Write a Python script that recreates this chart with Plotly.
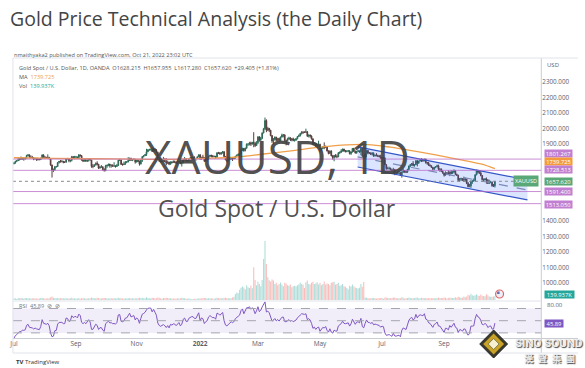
import plotly.graph_objects as go
import pandas as pd

# ---------------- data (daily bars Jul 1 2021 - Oct 21 2022) ----------------
opens = [
    1770, 1776,
    1787, 1791, 1796, 1803, 1802,  1808, 1806, 1808, 1824, 1828,  1812, 1812, 1809, 1803, 1806,
    1802, 1798, 1798, 1806, 1828,  1814, 1813, 1810, 1813, 1804,  1763, 1731, 1733, 1752, 1753,
    1779, 1787, 1786, 1787, 1781,  1781, 1805, 1803, 1791, 1793,  1817, 1810, 1814, 1815, 1810,
    1828, 1823, 1795, 1789, 1794,  1788, 1794, 1804, 1795, 1754,  1754, 1764, 1774, 1768, 1743,
    1750, 1750, 1734, 1726, 1757,  1761, 1769, 1760, 1761, 1756,  1757, 1754, 1760, 1794, 1796,
    1767, 1765, 1769, 1782, 1783,  1792, 1807, 1793, 1798, 1800,  1783, 1793, 1787, 1769, 1793,
    1818, 1823, 1831, 1849, 1862,  1864, 1864, 1851, 1868, 1858,  1846, 1806, 1790, 1784, 1788,
    1792, 1785, 1774, 1782, 1768,  1783, 1779, 1784, 1783, 1775,  1782, 1787, 1771, 1777, 1798,
    1804, 1790, 1789, 1803, 1809,  1811, 1811, 1805, 1805, 1816,
    1829, 1801, 1814, 1810, 1789,  1797, 1801, 1819, 1826, 1822,  1818, 1819, 1813, 1842, 1840,
    1835, 1843, 1849, 1818, 1796,  1791, 1797, 1801, 1808, 1804,  1808, 1820, 1826, 1833, 1836,
    1860, 1871, 1855, 1872, 1898,  1898, 1906, 1898, 1910, 1903,  1889, 1908, 1944, 1923, 1936,
    1970, 1997, 2050, 1988, 2000,  1988, 1953, 1918, 1929, 1943,  1922, 1935, 1921, 1944, 1957,
    1958, 1922, 1920, 1932, 1937,  1925, 1932, 1922, 1925, 1933,  1947, 1954, 1967, 1977, 1975,
    1974, 1978, 1951, 1957, 1950,  1932, 1898, 1904, 1886, 1894,  1897, 1863, 1870, 1881, 1876,
    1883, 1854, 1838, 1853, 1822,  1811, 1825, 1818, 1816, 1841,  1846, 1853, 1866, 1853, 1851,
    1853, 1855, 1837, 1847, 1870,  1851, 1841, 1852, 1854, 1848,  1871, 1819, 1809, 1834, 1857,
    1840, 1839, 1832, 1838, 1822,  1826, 1823, 1820, 1817, 1807,  1811, 1808, 1764, 1739, 1740,
    1742, 1733, 1725, 1735, 1710,  1708, 1709, 1711, 1696, 1718,  1727, 1719, 1717, 1734, 1756,
    1766, 1772, 1760, 1765, 1791,  1775, 1789, 1794, 1792, 1790,  1802, 1779, 1776, 1761, 1758,
    1747, 1736, 1748, 1751, 1758,  1737, 1737, 1723, 1711, 1697,  1712, 1710, 1702, 1718, 1708,
    1717, 1724, 1702, 1697, 1664,  1675, 1675, 1664, 1673, 1671,  1644, 1622, 1628, 1660, 1660,
    1661, 1699, 1730, 1716, 1712,  1695, 1668, 1666, 1673, 1666,  1644, 1650, 1652, 1629, 1628.215,
]
highs = [
    1781, 1790,
    1795, 1815, 1808, 1818, 1811,  1810, 1815, 1829, 1834, 1831,  1825, 1822, 1814, 1810, 1809,
    1810, 1805, 1811, 1832, 1832,  1820, 1815, 1832, 1815, 1806,  1765, 1740, 1756, 1757, 1781,
    1789, 1795, 1795, 1789, 1787,  1808, 1809, 1806, 1797, 1822,  1820, 1822, 1822, 1817, 1834,
    1831, 1827, 1800, 1800, 1802,  1797, 1808, 1806, 1797, 1769,  1767, 1779, 1787, 1770, 1756,
    1763, 1756, 1742, 1764, 1765,  1770, 1770, 1767, 1767, 1781,  1761, 1770, 1796, 1800, 1797,
    1773, 1785, 1788, 1788, 1814,  1810, 1809, 1802, 1806, 1802,  1796, 1796, 1792, 1797, 1819,
    1826, 1833, 1868, 1865, 1867,  1869, 1877, 1870, 1870, 1866,  1849, 1810, 1794, 1795, 1815,
    1807, 1807, 1792, 1784, 1786,  1787, 1793, 1792, 1786, 1790,  1791, 1790, 1780, 1800, 1815,
    1807, 1794, 1804, 1812, 1812,  1814, 1819, 1808, 1818, 1830,
    1832, 1815, 1829, 1812, 1801,  1806, 1823, 1828, 1829, 1828,  1823, 1822, 1845, 1848, 1847,
    1846, 1853, 1851, 1820, 1800,  1801, 1806, 1812, 1812, 1815,  1822, 1830, 1836, 1842, 1865,
    1874, 1873, 1875, 1902, 1903,  1913, 1914, 1912, 1975, 1913,  1917, 1950, 1950, 1945, 1974,
    2003, 2070, 2058, 2010, 2002,  1990, 1957, 1937, 1948, 1945,  1938, 1939, 1947, 1966, 1963,
    1960, 1926, 1939, 1946, 1943,  1937, 1940, 1932, 1937, 1950,  1960, 1970, 1981, 1979, 1980,
    1998, 1982, 1959, 1960, 1955,  1935, 1911, 1906, 1900, 1920,  1900, 1873, 1884, 1909, 1889,
    1884, 1858, 1858, 1858, 1828,  1827, 1833, 1831, 1847, 1849,  1865, 1869, 1868, 1860, 1858,
    1860, 1857, 1851, 1872, 1874,  1857, 1853, 1860, 1857, 1875,  1877, 1825, 1840, 1857, 1858,
    1847, 1846, 1847, 1845, 1831,  1840, 1830, 1828, 1829, 1813,  1813, 1812, 1770, 1752, 1752,
    1746, 1739, 1745, 1736, 1717,  1723, 1724, 1718, 1721, 1739,  1730, 1727, 1739, 1759, 1767,
    1774, 1788, 1768, 1793, 1792,  1790, 1800, 1807, 1804, 1803,  1803, 1782, 1783, 1768, 1760,
    1749, 1751, 1755, 1765, 1765,  1740, 1740, 1728, 1713, 1722,  1717, 1728, 1721, 1729, 1726,
    1735, 1729, 1707, 1699, 1678,  1681, 1676, 1688, 1681, 1673,  1653, 1641, 1662, 1662, 1676,
    1704, 1730, 1730, 1724, 1725,  1697, 1676, 1679, 1682, 1671,  1668, 1661, 1656, 1640, 1657.955,
]
lows = [
    1768, 1772,
    1783, 1789, 1793, 1796, 1797,  1791, 1797, 1804, 1822, 1810,  1807, 1806, 1794, 1797, 1790,
    1792, 1794, 1795, 1804, 1809,  1806, 1806, 1808, 1800, 1758,  1682, 1717, 1726, 1746, 1752,
    1772, 1778, 1779, 1774, 1777,  1779, 1800, 1781, 1781, 1786,  1806, 1800, 1809, 1805, 1809,
    1818, 1791, 1782, 1785, 1786,  1782, 1785, 1791, 1745, 1742,  1750, 1760, 1760, 1737, 1740,
    1746, 1727, 1721, 1723, 1745,  1755, 1746, 1746, 1752, 1750,  1746, 1750, 1757, 1789, 1764,
    1759, 1764, 1765, 1776, 1780,  1789, 1790, 1788, 1794, 1772,  1779, 1781, 1759, 1767, 1783,
    1812, 1822, 1822, 1846, 1855,  1856, 1847, 1850, 1855, 1840,  1802, 1782, 1779, 1782, 1779,
    1781, 1761, 1769, 1762, 1766,  1772, 1778, 1775, 1770, 1769,  1780, 1770, 1753, 1775, 1795,
    1788, 1785, 1787, 1799, 1805,  1806, 1804, 1790, 1803, 1814,
    1799, 1798, 1807, 1782, 1785,  1791, 1800, 1815, 1812, 1811,  1813, 1805, 1811, 1834, 1830,
    1830, 1836, 1815, 1794, 1780,  1786, 1795, 1797, 1789, 1800,  1804, 1817, 1823, 1818, 1820,
    1853, 1849, 1852, 1868, 1886,  1890, 1886, 1895, 1878, 1879,  1888, 1898, 1914, 1920, 1930,
    1968, 1990, 1975, 1982, 1977,  1949, 1906, 1895, 1922, 1915,  1915, 1911, 1918, 1940, 1942,
    1916, 1890, 1916, 1926, 1918,  1916, 1917, 1914, 1918, 1929,  1945, 1947, 1960, 1964, 1970,
    1970, 1944, 1941, 1940, 1927,  1891, 1894, 1881, 1872, 1886,  1850, 1853, 1866, 1865, 1872,
    1850, 1832, 1836, 1820, 1798,  1787, 1812, 1807, 1814, 1835,  1840, 1850, 1848, 1844, 1845,
    1848, 1831, 1828, 1844, 1849,  1837, 1836, 1848, 1843, 1826,  1818, 1805, 1805, 1812, 1832,
    1836, 1830, 1825, 1816, 1817,  1820, 1814, 1813, 1805, 1784,  1802, 1763, 1732, 1735, 1733,
    1728, 1722, 1707, 1697, 1698,  1705, 1703, 1692, 1681, 1712,  1712, 1711, 1712, 1729, 1750,
    1757, 1754, 1752, 1763, 1754,  1771, 1786, 1782, 1784, 1787,  1771, 1765, 1758, 1754, 1745,
    1728, 1730, 1742, 1749, 1727,  1719, 1718, 1707, 1688, 1695,  1707, 1698, 1691, 1704, 1707,
    1712, 1697, 1692, 1660, 1654,  1660, 1659, 1654, 1655, 1639,  1620, 1620, 1615, 1641, 1655,
    1659, 1697, 1707, 1706, 1690,  1664, 1658, 1662, 1642, 1641,  1640, 1645, 1622, 1621, 1617.28,
]
closes = [
    1776, 1787,
    1791, 1796, 1803, 1802, 1808,  1806, 1808, 1824, 1828, 1812,  1812, 1809, 1803, 1806, 1802,
    1798, 1798, 1806, 1828, 1814,  1813, 1810, 1813, 1804, 1763,  1731, 1733, 1752, 1753, 1779,
    1787, 1786, 1787, 1781, 1781,  1805, 1803, 1791, 1793, 1817,  1810, 1814, 1815, 1810, 1828,
    1823, 1795, 1789, 1794, 1788,  1794, 1804, 1795, 1754, 1754,  1764, 1774, 1768, 1743, 1750,
    1750, 1734, 1726, 1757, 1761,  1769, 1760, 1761, 1756, 1757,  1754, 1760, 1794, 1796, 1767,
    1765, 1769, 1782, 1783, 1792,  1807, 1793, 1798, 1800, 1783,  1793, 1787, 1769, 1793, 1818,
    1823, 1831, 1849, 1862, 1864,  1864, 1851, 1868, 1858, 1846,  1806, 1790, 1784, 1788, 1792,
    1785, 1774, 1782, 1768, 1783,  1779, 1784, 1783, 1775, 1782,  1787, 1771, 1777, 1798, 1804,
    1790, 1789, 1803, 1809, 1811,  1811, 1805, 1805, 1816, 1829,
    1801, 1814, 1810, 1789, 1797,  1801, 1819, 1826, 1822, 1818,  1819, 1813, 1842, 1840, 1835,
    1843, 1849, 1818, 1796, 1791,  1797, 1801, 1808, 1804, 1808,  1820, 1826, 1833, 1836, 1860,
    1871, 1855, 1872, 1898, 1898,  1906, 1898, 1910, 1903, 1889,  1908, 1944, 1923, 1936, 1970,
    1997, 2050, 1988, 2000, 1988,  1953, 1918, 1929, 1943, 1922,  1935, 1921, 1944, 1957, 1958,
    1922, 1920, 1932, 1937, 1925,  1932, 1922, 1925, 1933, 1947,  1954, 1967, 1977, 1975, 1974,
    1978, 1951, 1957, 1950, 1932,  1898, 1904, 1886, 1894, 1897,  1863, 1870, 1881, 1876, 1883,
    1854, 1838, 1853, 1822, 1811,  1825, 1818, 1816, 1841, 1846,  1853, 1866, 1853, 1851, 1853,
    1855, 1837, 1847, 1870, 1851,  1841, 1852, 1854, 1848, 1871,  1819, 1809, 1834, 1857, 1840,
    1839, 1832, 1838, 1822, 1826,  1823, 1820, 1817, 1807, 1811,  1808, 1764, 1739, 1740, 1742,
    1733, 1725, 1735, 1710, 1708,  1709, 1711, 1696, 1718, 1727,  1719, 1717, 1734, 1756, 1766,
    1772, 1760, 1765, 1791, 1775,  1789, 1794, 1792, 1790, 1802,  1779, 1776, 1761, 1758, 1747,
    1736, 1748, 1751, 1758, 1737,  1737, 1723, 1711, 1697, 1712,  1710, 1702, 1718, 1708, 1717,
    1724, 1702, 1697, 1664, 1675,  1675, 1664, 1673, 1671, 1644,  1622, 1628, 1660, 1660, 1661,
    1699, 1730, 1716, 1712, 1695,  1668, 1666, 1673, 1666, 1644,  1650, 1652, 1629, 1628.215, 1657.62,
]
volumes_k = [
    55, 60,
    35, 70, 62, 68, 58,  52, 66, 70, 64, 60,  55, 58, 60, 54, 50,
    52, 56, 72, 75, 62,  50, 54, 60, 58, 95,  120, 80, 72, 60, 70,
    58, 62, 66, 64, 55,  66, 56, 60, 58, 78,  50, 60, 55, 52, 72,
    45, 70, 64, 58, 55,  50, 62, 58, 90, 70,  60, 58, 75, 72, 54,
    56, 66, 68, 74, 60,  55, 58, 60, 52, 72,  50, 60, 76, 62, 66,
    54, 56, 58, 52, 70,  62, 58, 60, 56, 64,  55, 66, 80, 68, 78,
    60, 62, 92, 70, 58,  54, 76, 66, 60, 62,  85, 78, 60, 40, 66,
    70, 82, 66, 58, 64,  52, 50, 54, 56, 60,  50, 58, 76, 70, 62,
    54, 48, 50, 46, 30,  36, 44, 48, 46, 50,
    62, 56, 66, 72, 68,  56, 60, 62, 58, 54,  44, 58, 76, 66, 60,
    64, 62, 80, 78, 66,  58, 62, 60, 90, 110,  210, 260, 240, 360, 430,
    470, 440, 380, 520, 450,  420, 500, 410, 1150, 700,  520, 640, 560, 480, 700,
    1435, 2065, 1260, 800, 690,  650, 720, 680, 560, 600,  520, 560, 610, 540, 480,
    600, 580, 520, 500, 540,  450, 480, 500, 470, 520,  540, 600, 560, 530, 420,
    620, 680, 560, 540, 600,  640, 560, 580, 620, 540,  600, 520, 560, 650, 540,
    580, 560, 520, 600, 620,  640, 540, 560, 600, 500,  520, 560, 480, 460, 420,
    380, 500, 470, 540, 480,  440, 420, 400, 430, 560,  460, 630, 85, 75, 70,
    55, 60, 66, 70, 62,  56, 58, 62, 66, 72,  40, 90, 84, 66, 70,
    62, 66, 84, 88, 70,  60, 64, 62, 92, 78,  56, 60, 70, 84, 74,
    60, 72, 66, 78, 84,  58, 62, 76, 70, 60,  66, 62, 70, 64, 60,
    68, 64, 58, 60, 90,  72, 70, 74, 86, 80,  50, 78, 82, 76, 72,
    70, 96, 78, 110, 100,  80, 78, 120, 100, 124,  180, 160, 220, 170, 150,
    170, 200, 160, 140, 190,  150, 140, 130, 200, 170,  120, 110, 116, 122, 139.937,
]
# closes of the 15 sessions before the chart starts (RSI warm-up only)
warmup_closes = [1899, 1877, 1866, 1859, 1812, 1774, 1764, 1783, 1779, 1783, 1776, 1782, 1780, 1761, 1770]

# 100-day moving average, read at points along the orange line
ma_dates = ["2021-07-01", "2021-08-09", "2021-10-11", "2021-12-06", "2022-01-04", "2022-02-04",
            "2022-03-07", "2022-04-05", "2022-05-02", "2022-05-27", "2022-06-17", "2022-07-11",
            "2022-08-02", "2022-08-24", "2022-09-15", "2022-10-07", "2022-10-21"]
ma_values = [1810, 1806, 1802, 1800, 1806, 1813, 1834, 1856, 1878, 1893, 1895, 1878,
             1854, 1828, 1800, 1770, 1739.725]

# horizontal levels drawn on the chart
levels = [1801.267, 1728.513, 1591.400, 1513.050]
last_price = 1657.620

# descending channel (start / end of the drawing)
channel_dates = ["2022-06-07 15:50", "2022-11-23 02:00"]
channel_upper = [1880, 1666]
channel_lower = [1750, 1537]

price_ticks = [1000, 1100, 1200, 1300, 1400, 1900, 2000, 2100, 2200, 2300]
month_ticks = ["2021-07-01", "2021-09-01", "2021-11-01", "2022-01-03", "2022-03-01",
               "2022-05-02", "2022-07-01", "2022-09-01"]
month_labels = ["Jul", "Sep", "Nov", "<b>2022</b>", "Mar", "May", "Jul", "Sep"]

# ---------------- derived ----------------
dates = pd.bdate_range("2021-07-01", periods=len(closes))

allc = warmup_closes + closes
period = 14
deltas = [allc[i] - allc[i - 1] for i in range(1, len(allc))]
ag = sum(max(d, 0) for d in deltas[:period]) / period
al = sum(max(-d, 0) for d in deltas[:period]) / period
rsi_all = [None] * (period + 1)
rsi_all[period] = 100 - 100 / (1 + ag / al) if al else 100
for d in deltas[period:]:
    ag = (ag * (period - 1) + max(d, 0)) / period
    al = (al * (period - 1) + max(-d, 0)) / period
    rsi_all.append(100 - 100 / (1 + ag / al) if al else 100)
rsi = rsi_all[len(warmup_closes):]

vol_colors = ["rgba(38,166,154,0.38)" if c >= o else "rgba(239,83,80,0.38)" for o, c in zip(opens, closes)]

W, H = 585, 368
def px(x): return x / W
def py(y): return 1 - y / H

FONT = "Open Sans"
GRAY = "#5d606b"

fig = go.Figure()

# volume
fig.add_trace(go.Bar(x=dates, y=volumes_k, marker=dict(color=vol_colors, line=dict(width=0)),
                     xaxis="x", yaxis="y2", showlegend=False))
# channel
fig.add_trace(go.Scatter(x=[channel_dates[0], channel_dates[1], channel_dates[1], channel_dates[0], channel_dates[0]],
                         y=[channel_upper[0], channel_upper[1], channel_lower[1], channel_lower[0], channel_upper[0]],
                         fill="toself", fillcolor="rgba(41,98,255,0.17)", line=dict(width=0),
                         mode="lines", xaxis="x", yaxis="y", showlegend=False))
# candles
fig.add_trace(go.Candlestick(x=dates, open=opens, high=highs, low=lows, close=closes,
                             increasing=dict(line=dict(color="#2d6a57", width=1), fillcolor="#2d6a57"),
                             decreasing=dict(line=dict(color="#5a3b3b", width=1), fillcolor="#5a3b3b"),
                             whiskerwidth=0, xaxis="x", yaxis="y", showlegend=False))
# channel borders
for ys, dash, col in [(channel_upper, "solid", "#3556c8"), (channel_lower, "solid", "#3556c8"),
                      ([(a + b) / 2 for a, b in zip(channel_upper, channel_lower)], "dash", "#7a8ab8")]:
    fig.add_trace(go.Scatter(x=channel_dates, y=ys, mode="lines", line=dict(color=col, width=1.2, dash=dash),
                             xaxis="x", yaxis="y", showlegend=False))
# moving average
fig.add_trace(go.Scatter(x=ma_dates, y=ma_values, mode="lines", line=dict(color="#f0a04b", width=1.3, shape="spline"),
                         xaxis="x", yaxis="y", showlegend=False))
# RSI
fig.add_trace(go.Scatter(x=dates, y=rsi, mode="lines", line=dict(color="#7e57c2", width=1),
                         xaxis="x2", yaxis="y3", showlegend=False))

shapes = []
for lv in levels:
    shapes.append(dict(type="line", xref="x domain", x0=0, x1=1, yref="y", y0=lv, y1=lv,
                       line=dict(color="rgba(186,104,200,0.75)", width=1)))
shapes.append(dict(type="line", xref="x domain", x0=0, x1=1, yref="y", y0=last_price, y1=last_price,
                   line=dict(color="#8a8a8a", width=1, dash="dot")))
# RSI band
shapes.append(dict(type="rect", xref="x2 domain", x0=0, x1=1, yref="y3", y0=30, y1=70,
                   fillcolor="rgba(126,87,194,0.10)", line=dict(width=0), layer="below"))
for lv in [70, 50, 30]:
    shapes.append(dict(type="line", xref="x2 domain", x0=0, x1=1, yref="y3", y0=lv, y1=lv,
                       line=dict(color="#a3a6af", width=1, dash="dash")))
# frame lines
frame = "#e0e3eb"
shapes += [
    dict(type="line", xref="paper", yref="paper", x0=px(541), x1=px(541), y0=py(353), y1=py(58), line=dict(color="#c9ccd3", width=1)),
    dict(type="line", xref="paper", yref="paper", x0=px(9), x1=px(9), y0=py(353), y1=py(58), line=dict(color=frame, width=1)),
    dict(type="line", xref="paper", yref="paper", x0=px(9), x1=px(578), y0=py(58), y1=py(58), line=dict(color=frame, width=1)),
    dict(type="line", xref="paper", yref="paper", x0=px(9), x1=px(541), y0=py(301), y1=py(301), line=dict(color=frame, width=1)),
    dict(type="line", xref="paper", yref="paper", x0=px(9), x1=px(578), y0=py(338.5), y1=py(338.5), line=dict(color="#c9ccd3", width=1)),
    dict(type="line", xref="paper", yref="paper", x0=px(9), x1=px(578), y0=py(353), y1=py(353), line=dict(color=frame, width=1)),
    # event icon (flag badge)
    dict(type="circle", xref="paper", yref="paper", x0=px(495), x1=px(503), y0=py(298), y1=py(290),
         fillcolor="#eef0f8", line=dict(color="#e06666", width=1.2)),
    dict(type="rect", xref="paper", yref="paper", x0=px(496.5), x1=px(499), y0=py(294), y1=py(291.5),
         fillcolor="#5a6fb8", line=dict(width=0)),
    # logo diamond
    dict(type="path", xref="paper", yref="paper",
         path=f"M {px(493)},{py(330)} L {px(507)},{py(344)} L {px(493)},{py(358)} L {px(479)},{py(344)} Z",
         fillcolor="#3a3a2a", line=dict(color="#222", width=1)),
    dict(type="path", xref="paper", yref="paper",
         path=f"M {px(493)},{py(333.5)} L {px(503.5)},{py(344)} L {px(493)},{py(354.5)} L {px(482.5)},{py(344)} Z",
         fillcolor="#c9a227", line=dict(width=0)),
    dict(type="path", xref="paper", yref="paper",
         path=f"M {px(493)},{py(338.5)} L {px(498.5)},{py(344)} L {px(493)},{py(349.5)} L {px(487.5)},{py(344)} Z",
         fillcolor="#f4f0d0", line=dict(color="#6b6b3a", width=0.8)),
]

ann = []
def text(x, y, s, size, color=GRAY, xanchor="left", family=FONT, **kw):
    ann.append(dict(xref="paper", yref="paper", x=px(x), y=py(y), text=s, showarrow=False,
                    xanchor=xanchor, yanchor="middle", font=dict(size=size, color=color, family=family), **kw))

text(4, 18, "Gold Price Technical Analysis (the Daily Chart)", 19.5, color="#444444")
text(8, 55, "nmaithyaka2 published on TradingView.com, Oct 21, 2022 23:02 UTC", 5.6, color="#555")
text(13, 68, "Gold Spot / U.S. Dollar, 1D, OANDA  O1628.215  H1657.955  L1617.280  C1657.620  +29.405 (+1.81%)", 5.6, color="#555")
text(13, 77, "MA  <span style='color:#f0a04b'>1739.725</span>", 5.6, color="#555")
text(13, 85.5, "Vol  <span style='color:#26a69a'>139.937K</span>", 5.6, color="#555")
text(275, 156, "XAUUSD, 1D", 46, color="rgba(65,65,65,0.92)", xanchor="center")
text(275, 208, "Gold Spot / U.S. Dollar", 23, color="rgba(65,65,65,0.92)", xanchor="center")
text(545, 65, "USD", 6, color=GRAY)
text(544.5, 305, "80.00", 6.0, color=GRAY)
text(13, 306, "RSI  45.89  ⊘  ⊘", 5.6, color="#777")
text(10, 362, "<b>TV</b> TradingView", 6, color="#333")
text(549, 343, "<b>SINO SOUND</b>", 11.5, color="#ececec", xanchor="center", family="Roboto")
text(549, 357.5, "<b>漢  聲  集  團</b>", 9.5, color="#ececec", xanchor="center", family="Noto Sans CJK TC")
ann[-1]["font"]["shadow"] = "1px 1px 1px #444"
ann[-2]["font"]["shadow"] = "1px 1px 1px #444"

def box(s, yval, yshift, bg, fg="#ffffff", yref="y", w=27):
    ann.append(dict(xref="paper", x=px(543.5), xanchor="left", yref=yref, y=yval, yshift=yshift, text=s,
                    showarrow=False, bgcolor=bg, borderpad=0, width=w, height=7.4, align="center", valign="middle",
                    font=dict(size=5.8, color=fg, family=FONT)))

box("1801.267", 1801.267, 5.4, "#c17fd1")
box("1739.725", 1739.725, 7.3, "#f39b3c")
box("1728.513", 1728.513, 1.0, "#c17fd1")
box("1657.620", last_price, 0, "#5aa777")
box("1591.400", 1591.400, 0.5, "#c17fd1")
box("1513.050", 1513.050, -0.5, "#c17fd1")
box("139.937K", 139.937, 1.5, "#26a69a", yref="y2", w=29)
box("45.89", 45.89, 0, "#7e57c2", yref="y3", w=18)
ann.append(dict(xref="paper", x=px(539), xanchor="right", yref="y", y=last_price, text="XAUUSD", showarrow=False,
                bgcolor="#5aa777", borderpad=1, font=dict(size=5.6, color="white", family=FONT)))

fig.update_layout(
    width=W, height=H, margin=dict(l=0, r=0, t=0, b=0),
    paper_bgcolor="white", plot_bgcolor="rgba(0,0,0,0)",
    showlegend=False, bargap=0.25,
    xaxis=dict(domain=[px(9), px(541)], type="date", range=["2021-06-30 07:00", "2022-12-06 21:36"],
               rangebreaks=[dict(bounds=["sat", "mon"])], anchor="y", showticklabels=False,
               showgrid=False, zeroline=False, rangeslider=dict(visible=False), fixedrange=True),
    xaxis2=dict(domain=[px(9), px(541)], type="date", matches="x", anchor="y3",
                rangebreaks=[dict(bounds=["sat", "mon"])],
                tickvals=month_ticks, ticktext=month_labels, ticks="", showgrid=False, zeroline=False,
                tickfont=dict(size=6.5, color=GRAY, family=FONT)),
    yaxis=dict(domain=[py(300), py(60)], range=[890, 2442], side="right", anchor="x",
               tickvals=price_ticks, ticktext=[f"{v:.3f}" for v in price_ticks], ticks="",
               showgrid=False, zeroline=False, tickfont=dict(size=6.3, color=GRAY, family=FONT)),
    yaxis2=dict(domain=[py(300), py(60)], range=[0, 8400], overlaying="y", visible=False, anchor="x"),
    yaxis3=dict(domain=[py(338), py(301)], range=[21.6, 82.3], side="right", anchor="x2",
                showticklabels=False, ticks="", showgrid=False, zeroline=False),
    shapes=shapes, annotations=ann,
)

fig.write_html("out.html")
